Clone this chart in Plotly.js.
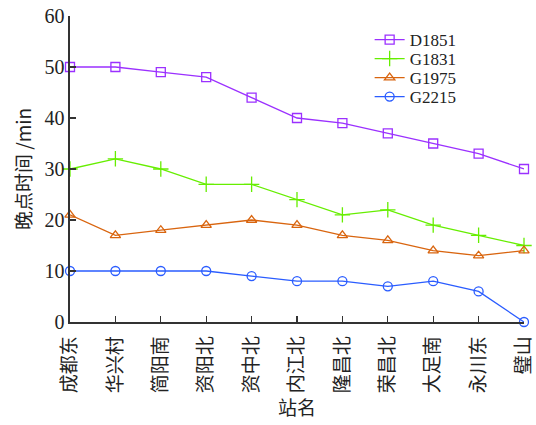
<!DOCTYPE html>
<html><head><meta charset="utf-8">
<script src="https://cdn.plot.ly/plotly-3.0.1.min.js"></script>
<style>body{margin:0;padding:0;background:#fff}#chart{width:536px;height:425px}</style>
</head><body><div id="chart"></div>
<script>
const stations = ["成都东","华兴村","简阳南","资阳北","资中北","内江北","隆昌北","荣昌北","大足南","永川东","璧山"];
const D1851 = [50,50,49,48,44,40,39,37,35,33,30];
const G1831 = [30,32,30,27,27,24,21,22,19,17,15];
const G1975 = [21,17,18,19,20,19,17,16,14,13,14];
const G2215 = [10,10,10,10,9,8,8,7,8,6,0];
const yTicks = [0,10,20,30,40,50,60];

const mk = (name, y, color, symbol, leg) => ({
  x: stations, y: y, name: name, type: "scatter", mode: "lines+markers",
  line: {color: color, width: 1.3},
  marker: {symbol: symbol, size: 9, color: color, line: {color: color, width: 1.3}},
  cliponaxis: false, legend: leg
});
const data = [
  mk("D1851", D1851, "#9b30ff", "square-open", "legend"),
  mk("G1831", G1831, "#66ee00", "cross-thin-open", "legend2"),
  mk("G1975", G1975, "#d9650f", "triangle-up-open", "legend3"),
  mk("G2215", G2215, "#2a5cff", "circle-open", "legend4")
];
data[1].marker.size = 11;
const serif = "Liberation Serif, 'Noto Sans CJK SC', serif";
const legFont = {family: serif, size: 17, color: "#222"};
const legY = [0.9216, 0.8595, 0.7974, 0.7353];
const legBase = (y) => ({x: 0.66, y: y, xanchor: "left", yanchor: "middle", bgcolor: "rgba(0,0,0,0)",
  font: legFont, borderwidth: 0});
const layout = {
  width: 536, height: 425,
  margin: {l: 70, r: 12, t: 16, b: 103},
  paper_bgcolor: "#fff", plot_bgcolor: "#fff",
  font: {family: serif, size: 19, color: "#222"},
  showlegend: true,
  legend: legBase(legY[0]), legend2: legBase(legY[1]), legend3: legBase(legY[2]), legend4: legBase(legY[3]),
  xaxis: {
    type: "category", range: [0, 10],
    showgrid: false, zeroline: false, showline: true, linecolor: "#333", linewidth: 1.6,
    ticks: "inside", ticklen: 6, tickcolor: "#333", tickwidth: 1.3,
    tickfont: {family: "'Noto Sans CJK SC', serif", size: 19, color: "#222"},
    tickangle: -90, ticklabelstandoff: 5,
    title: {text: "站名", font: {family: "'Noto Sans CJK SC', serif", size: 19, color: "#222"}, standoff: 8}
  },
  yaxis: {
    range: [0, 60], tickmode: "array", tickvals: yTicks,
    showgrid: false, zeroline: false, showline: true, linecolor: "#333", linewidth: 1.6,
    ticks: "inside", ticklen: 6, tickcolor: "#333", tickwidth: 1.3,
    tickfont: {family: "Liberation Serif, serif", size: 20, color: "#222"},
    title: {text: "晚点时间 /min", font: {family: "'Noto Sans CJK SC', Liberation Serif, serif", size: 19, color: "#222"}, standoff: 8}
  }
};
Plotly.newPlot("chart", data, layout, {displayModeBar: false, staticPlot: true});
</script></body></html>
